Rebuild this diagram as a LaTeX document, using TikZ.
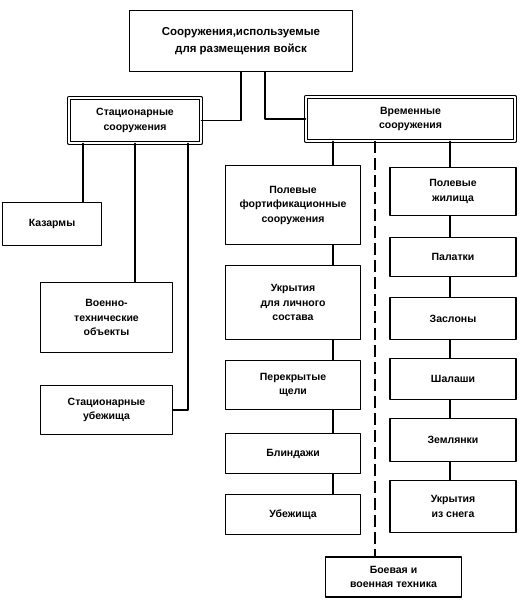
\documentclass[tikz,border=0pt]{standalone}
\usepackage{fontspec}
\setmainfont{Liberation Sans}
\begin{document}
\begin{tikzpicture}[x=1pt,y=-1pt,line join=round,line cap=round,font=\fontsize{10.5}{14.5}\selectfont\bfseries,
    khoi/.style={draw,line width=1.2pt,align=center,inner sep=2pt},
    kep/.style={khoi,double,double distance=2.5pt,line width=0.9pt},
    noi/.style={line width=1.5pt}]
    \useasboundingbox (0,0) rectangle (527,603);
    % cac khoi
    \node[khoi,minimum width=223pt,minimum height=61pt,font=\fontsize{11.5}{17}\selectfont\bfseries] (top) at (241,41) {Сооружения,используемые\\для размещения войск};
    \node[kep,minimum width=132pt,minimum height=45pt] (stat) at (135,120.5) {Стационарные\\сооружения};
    \node[kep,minimum width=209pt,minimum height=44pt] (vrem) at (410.5,119) {Временные\\сооружения};
    \foreach \ten/\x/\y/\w/\h/\chu in {
        kaz/52/224/99/43/{Казармы},
        vt/106.5/317.5/132/70/{Военно-\\технические\\объекты},
        su/106.5/410/132/49/{Стационарные\\убежища},
        pf/293/205/135/79/{Полевые\\фортификационные\\сооружения},
        uk/293/302.5/135/74/{Укрытия\\для личного\\состава},
        pr/293/385/135/49/{Перекрытые\\щели},
        bl/293/453.5/135/40/{Блиндажи},
        ub/293/514.5/135/40/{Убежища},
        pz/453/191.5/126/48/{Полевые\\жилища},
        pal/453/257/126/39/{Палатки},
        zas/453/318.5/126/42/{Заслоны},
        sha/453/379/126/41/{Шалаши},
        zem/453/440/126/43/{Землянки},
        sneg/453/506.5/126/52/{Укрытия\\из снега},
        boev/393.5/577/136/40/{Боевая и\\военная техника}}
        \node[khoi,minimum width=\w pt,minimum height=\h pt] (\ten) at (\x,\y) {\chu};
    % cac duong noi
    \coordinate (l) at (333,0);
    \coordinate (r) at (450,0);
    \coordinate (d) at (375,0);
    \draw[noi] (top.south) |- (stat.east);
    \draw[noi] ([xshift=24pt]top.south) |- (vrem.west);
    \draw[noi] ([xshift=-52pt]stat.south) -- ([xshift=31pt]kaz.north);
    \draw[noi] (stat.south) -- (stat.south |- vt.north);
    \draw[noi] ([xshift=53pt]stat.south) |- (su.east);
    \foreach \a/\b in {vrem/pf,pf/uk,uk/pr,pr/bl,bl/ub} \draw[noi] (\a.south -| l) -- (\b.north -| l);
    \foreach \a/\b in {vrem/pz,pz/pal,pal/zas,zas/sha,sha/zem,zem/sneg} \draw[noi] (\a.south -| r) -- (\b.north -| r);
    \draw[noi,line cap=butt,dash pattern=on 12pt off 5pt] (vrem.south -| d) -- (boev.north -| d);
\end{tikzpicture}
\end{document}
